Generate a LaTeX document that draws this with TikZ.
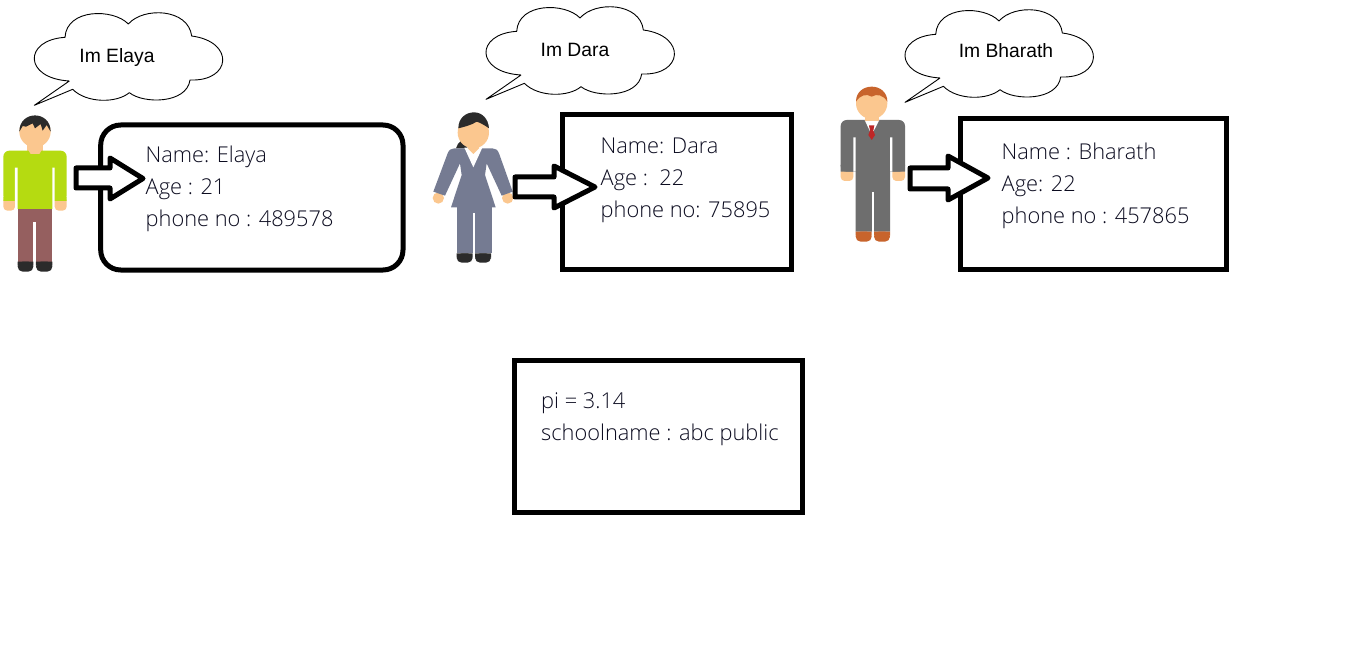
\documentclass[tikz,border=0pt]{standalone}
\usepackage{fontspec}
\setmainfont{Open Sans}[UprightFont=* Light]
\newfontfamily\cloudfont{Liberation Sans}
\definecolor{skin}{HTML}{FBC78F}
\definecolor{inkc}{HTML}{0C0C20}
\definecolor{darkhair}{HTML}{2B2B2B}
\definecolor{shirt}{HTML}{B5DB11}
\definecolor{pants}{HTML}{955F5F}
\definecolor{suitw}{HTML}{757B92}
\definecolor{suitm}{HTML}{6E6E6E}
\definecolor{ginger}{HTML}{C8642C}
\tikzset{
  boxs/.style={draw=black,line width=5pt,fill=white,inner sep=0pt,outer sep=0pt},
  info/.style={anchor=north west,align=left,inner sep=0pt,text=inkc,font=\fontsize{21.8}{32}\selectfont},
  say/.style={anchor=base,inner sep=0pt,font=\cloudfont\fontsize{19.3}{22}\selectfont},
  bub/.style={draw=black,line width=.9pt,fill=white,line join=round},
  barrow/.style={draw=black,line width=5pt,fill=white,line join=round},
  zoomed/.style={x=0.33333pt,y=-0.33333pt},
}
\newcommand{\bubble}[2]{%
  \begin{scope}[shift={(#1,#2)},zoomed]
    \draw[bub] (208,243) -- (103,316) -- (218,268)
      .. controls (260,310) and (350,310) .. (388,278)
      .. controls (430,312) and (560,312) .. (570,240)
      .. controls (695,245) and (705,125) .. (575,108)
      .. controls (565,25) and (430,20) .. (385,72)
      .. controls (340,25) and (200,25) .. (195,112)
      .. controls (70,120) and (70,235) .. (208,243);
  \end{scope}}
\newcommand{\blockarrow}[7]{% left, shaft top, shaft bottom, head x, head top, head bottom, tip
  \draw[barrow] (#1,#2) -- (#4,#2) -- (#4,#5) -- (#7,{(#5+#6)/2}) -- (#4,#6) -- (#4,#3) -- (#1,#3) -- cycle;}
\begin{document}
\begin{tikzpicture}[x=1pt,y=-1pt]
\useasboundingbox (0,0) rectangle (1360,655);
\fill[white] (0,0) rectangle (1360,655);

% information boxes
\node[boxs,rounded corners=20pt,minimum width=302.3pt,minimum height=145pt] (elayabox) at (251.85,197.5) {};
\node[boxs,minimum width=229pt,minimum height=154pt] (darabox) at (677,192) {};
\node[boxs,minimum width=266pt,minimum height=150.5pt] (bharathbox) at (1093,194.25) {};
\node[boxs,minimum width=288pt,minimum height=151.8pt] (sharedbox) at (658.5,436.6) {};

% speech bubbles
\bubble{0}{0}
\bubble{451.7}{-6}
\bubble{870.7}{-3}
\node[say] (elayasay) at (117,63) {Im Elaya};
\node[say] (darasay) at (575,57) {Im Dara};
\node[say] (bharathsay) at (1006,58) {Im Bharath};

% person 1
\begin{scope}[zoomed]
  \fill[skin,rounded corners=4pt] (10,590) -- (45,590) -- (45,632) -- (10,632) -- cycle;
  \fill[skin,rounded corners=4pt] (164,590) -- (200,590) -- (200,632) -- (164,632) -- cycle;
  \fill[skin] (82,430) rectangle (128,465);
  \fill[shirt,rounded corners=6pt] (10,603) -- (10,452) -- (200,452) -- (200,603) -- cycle;
  \fill[shirt] (10,590) rectangle (200,603) (53,590) rectangle (157,627);
  \fill[skin] (82,445) -- (128,445) -- (118,462) -- (92,462) -- cycle;
  \fill[white] (45,503) rectangle (53,603) (157,503) rectangle (164,603);
  \fill[skin] (105,395) circle[radius=47];
  \fill[darkhair] (58,395) .. controls (58,330) and (152,330) .. (152,395) -- (140,375) -- (128,392) -- (122,372) -- (105,385) -- (98,370) -- (78,380) -- (68,378) -- cycle;
  \fill[pants] (53,627) rectangle (157,785);
  \fill[white] (100,665) rectangle (108,790);
  \fill[darkhair,rounded corners=5pt] (53,785) -- (100,785) -- (100,815) -- (53,815) -- cycle;
  \fill[darkhair,rounded corners=5pt] (108,785) -- (157,785) -- (157,815) -- (108,815) -- cycle;
  \fill[darkhair] (53,785) rectangle (100,797) (108,785) rectangle (157,797);
\end{scope}

% person 2
\begin{scope}[shift={(425,0)},zoomed]
  \fill[darkhair] (93,445) .. controls (98,425) and (115,415) .. (127,422) -- (127,445) -- cycle;
  \fill[skin] (40,594) circle[radius=17] (248,594) circle[radius=17];
  \fill[suitw] (88,445) .. controls (78,445) and (72,450) .. (68,460) -- (25,575) -- (60,587) -- (105,490) -- (110,525) -- (78,622) -- (212,622) -- (180,525) -- (185,490) -- (230,587) -- (263,575) -- (222,460) .. controls (218,450) and (212,445) .. (202,445) -- cycle;
  \fill[white] (118,443) -- (145,502) -- (172,443) -- cycle;
  \fill[skin] (128,430) -- (162,430) -- (162,445) -- (145,462) -- (128,445) -- cycle;
  \fill[skin] (145,398) circle[radius=47];
  \fill[darkhair] (100,385) .. controls (100,352) and (125,337) .. (147,337) .. controls (170,337) and (190,355) .. (192,385) .. controls (178,375) and (165,368) .. (155,365) .. controls (140,375) and (120,380) .. (100,385) -- cycle;
  \fill[suitw] (95,622) rectangle (200,760);
  \fill[white] (143,638) rectangle (150,765);
  \fill[darkhair,rounded corners=5pt] (95,760) -- (143,760) -- (143,788) -- (95,788) -- cycle;
  \fill[darkhair,rounded corners=5pt] (150,760) -- (198,760) -- (198,788) -- (150,788) -- cycle;
  \fill[darkhair] (95,760) rectangle (143,772) (150,760) rectangle (198,772);
\end{scope}

% person 3
\begin{scope}[shift={(830,0)},zoomed]
  \fill[skin,rounded corners=4pt] (32,505) -- (70,505) -- (70,543) -- (32,543) -- cycle;
  \fill[skin,rounded corners=4pt] (187,505) -- (225,505) -- (225,543) -- (187,543) -- cycle;
  \fill[suitm,rounded corners=6pt] (32,515) -- (32,360) -- (225,360) -- (225,515) -- cycle;
  \fill[suitm] (32,495) rectangle (225,515) (77,495) rectangle (180,695);
  \fill[white] (70,412) rectangle (77,515) (180,412) rectangle (187,515);
  \fill[white] (104,360) -- (125,405) -- (148,360) -- cycle;
  \fill[skin] (106,340) rectangle (146,362);
  \fill[red!70!black!85!white] (117,376) -- (133,376) -- (130,392) -- (135,405) -- (125,420) -- (115,405) -- (120,392) -- cycle;
  \fill[skin] (125,310) circle[radius=47];
  \fill[ginger] (78,305) .. controls (78,245) and (172,245) .. (172,305) .. controls (160,285) and (140,280) .. (125,290) .. controls (110,280) and (90,285) .. (78,305) -- cycle;
  \fill[white] (125,575) rectangle (132,700);
  \fill[ginger,rounded corners=5pt] (77,695) -- (125,695) -- (125,725) -- (77,725) -- cycle;
  \fill[ginger,rounded corners=5pt] (132,695) -- (180,695) -- (180,725) -- (132,725) -- cycle;
  \fill[ginger] (77,695) rectangle (125,707) (132,695) rectangle (180,707);
\end{scope}

% block arrows
\blockarrow{76}{168}{188}{110}{158}{199}{143}
\blockarrow{515}{177}{197}{554}{166}{208}{595}
\blockarrow{910}{168}{189}{948}{156}{200}{988}

% texts
\node[info] (elayainfo) at (145.5,145.5) {Name: Elaya\\Age : 21\\phone no : 489578};
\node[info] (darainfo) at (600.5,138) {Name: Dara\\Age :\ \ 22\\phone no: 75895};
\node[info] (bharathinfo) at (1001.5,142.5) {Name : Bharath\\Age: 22\\phone no : 457865};
\node[info] (sharedinfo) at (541,392.5) {pi = 3.14\\schoolname : abc public};
\end{tikzpicture}
\end{document}
